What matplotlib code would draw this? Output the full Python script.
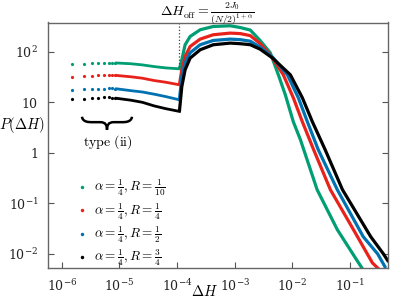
import numpy as np
import matplotlib
matplotlib.use('Agg')
import matplotlib.pyplot as plt
from matplotlib.path import Path
from matplotlib.patches import PathPatch

plt.rcParams['mathtext.fontset'] = 'cm'
plt.rcParams['font.family'] = 'serif'
plt.rcParams['font.serif'] = ['DejaVu Serif']

# series labels and colours
labels = [r'$\alpha=\frac{1}{4}, R=\frac{1}{10}$', r'$\alpha=\frac{1}{4}, R=\frac{1}{4}$',
          r'$\alpha=\frac{1}{4}, R=\frac{1}{2}$', r'$\alpha=\frac{1}{4}, R=\frac{3}{4}$']
colors = ['#009E73', '#E8221B', '#0072B2', '#000000']

# sparse dots of the type (ii) region (same dH for every series)
dh_dots = [1.48e-6, 2.45e-6, 3.4e-6, 4.3e-6, 5.4e-6, 6.5e-6, 7.4e-6, 8.5e-6]
p_dots = [
    [57, 58, 59, 59, 60, 60, 60, 60],
    [31.5, 32.5, 33, 34, 34, 34.5, 34.5, 34.5],
    [17.8, 18, 18.3, 18.6, 18.7, 18.8, 18.8, 18.7],
    [11.5, 11.7, 12, 12.3, 12.5, 12.6, 12.4, 12.2],
]

# dense part of the type (ii) region, up to dH_off
dh_off = 1.1e-4
dh_band = [8.9e-6, 1.58e-5, 2.5e-5, 3.98e-5, 6.3e-5, 1.1e-4]
p_band = [
    [60, 58, 55, 51, 48, 46],
    [34, 32, 30, 27, 25, 22.2],
    [18.5, 17, 16, 14.5, 13, 11.2],
    [12, 11, 10, 8.5, 7.5, 6.6],
]

log_dh_main = [
    [-3.96, -3.918, -3.861, -3.774, -3.60, -3.374, -3.078, -2.904, -2.73, -2.557, -2.383,
     -2.243, -2.122, -1.983, -1.86, -1.57, -1.22, -0.85, -0.78],
    [-3.96, -3.918, -3.861, -3.774, -3.60, -3.374, -3.078, -2.904, -2.73, -2.557, -2.383,
     -2.157, -1.983, -1.826, -1.63, -1.34, -0.94, -0.61, -0.50],
    [-3.96, -3.918, -3.861, -3.774, -3.60, -3.374, -3.078, -2.904, -2.73, -2.557, -2.348,
     -2.087, -1.896, -1.739, -1.55, -1.22, -0.77, -0.52, -0.38],
    [-3.96, -3.918, -3.861, -3.774, -3.60, -3.374, -3.078, -2.904, -2.73, -2.557, -2.348,
     -2.035, -1.826, -1.652, -1.43, -1.13, -0.64, -0.42, -0.33],
]
log_p_main = [
    [1.663, 1.842, 2.139, 2.303, 2.436, 2.501, 2.515, 2.48, 2.43, 2.22, 1.98,
     1.545, 1.149, 0.614, 0.26, -0.73, -1.52, -2.18, -2.30],
    [1.347, 1.644, 1.907, 2.105, 2.251, 2.337, 2.37, 2.36, 2.32, 2.16, 1.94,
     1.545, 1.089, 0.614, 0.06, -0.73, -1.52, -2.18, -2.30],
    [1.05, 1.511, 1.782, 1.98, 2.139, 2.224, 2.251, 2.24, 2.21, 2.09, 1.90,
     1.545, 1.089, 0.614, 0.06, -0.73, -1.66, -2.00, -2.28],
    [0.818, 1.313, 1.644, 1.875, 2.04, 2.139, 2.172, 2.16, 2.14, 2.05, 1.88,
     1.545, 1.089, 0.614, 0.06, -0.73, -1.66, -2.00, -2.16],
]

fig = plt.figure(figsize=(4.15, 3.02), dpi=100)
ax = fig.add_axes([48/415, 1 - 268/302, 340/415, 245.5/302])

for i in range(4):
    ax.plot(dh_dots, p_dots[i], 'o', ms=2.3, mec='none', color=colors[i])
    ax.plot(dh_band, p_band[i], '-', lw=2.0, color=colors[i])
    ax.plot(10.0 ** np.array(log_dh_main[i]), 10.0 ** np.array(log_p_main[i]), '-', lw=2.3,
            color=colors[i], solid_capstyle='butt', solid_joinstyle='round')

# dotted line at dH_off
ax.plot([dh_off, dh_off], [50, 400], ':', color='#444444', lw=0.9)

ax.set_xscale('log')
ax.set_yscale('log')
ax.set_xlim(5.75e-7, 0.457)
ax.set_ylim(0.00525, 380)

ax.set_xticks([1e-6, 1e-5, 1e-4, 1e-3, 1e-2, 1e-1])
ax.set_xticklabels([r'$\mathit{10^{-6}}$', r'$\mathit{10^{-5}}$', r'$\mathit{10^{-4}}$',
                    r'$\mathit{10^{-3}}$', r'$\mathit{10^{-2}}$', r'$\mathit{10^{-1}}$'],
                   math_fontfamily='dejavuserif')
ax.set_yticks([1e-2, 1e-1, 1, 10, 100])
ax.set_yticklabels([r'$\mathit{10^{-2}}$', r'$\mathit{10^{-1}}$', r'$\mathit{1}$',
                    r'$\mathit{10}$', r'$\mathit{10^{2}}$'], math_fontfamily='dejavuserif')
ax.minorticks_off()
ax.tick_params(direction='in', length=4, width=0.8, color='#555555', labelsize=9,
               labelcolor='#222222', right=True, top=False, pad=7)
for s in ax.spines.values():
    s.set_color('#666666')
    s.set_linewidth(1.0)

# legend
handles = [plt.Line2D([], [], ls='none', marker='o', ms=2.5, mec='none', color=c) for c in colors]
ax.legend(handles, labels, loc='upper left', bbox_to_anchor=(0.07, 0.39), frameon=False,
          fontsize=9.5, handlelength=0.8, handletextpad=0.5, labelspacing=0.2,
          borderaxespad=0)

# curly brace + label
x0, x1, xm = 0.100, 0.247, 0.1735
yt, ym, yb = 0.616, 0.594, 0.563
verts = [(x0, yt), (x0 + 0.002, ym), (x0 + 0.02, ym), (x0 + 0.03, ym),
         (xm - 0.02, ym),
         (xm - 0.004, ym), (xm, ym - 0.012), (xm, yb),
         (xm, ym - 0.012), (xm + 0.004, ym), (xm + 0.02, ym),
         (x1 - 0.03, ym),
         (x1 - 0.02, ym), (x1 - 0.002, ym), (x1, yt)]
codes = [Path.MOVETO, Path.CURVE4, Path.CURVE4, Path.CURVE4,
         Path.LINETO,
         Path.CURVE4, Path.CURVE4, Path.CURVE4,
         Path.CURVE4, Path.CURVE4, Path.CURVE4,
         Path.LINETO,
         Path.CURVE4, Path.CURVE4, Path.CURVE4]
ax.add_patch(PathPatch(Path(verts, codes), transform=ax.transAxes, fill=False, lw=1.8, color='black'))
ax.text(0.176, 0.514, r'$\mathrm{type\ (ii)}$', transform=ax.transAxes, ha='center', va='center', fontsize=10)

fig.text(207/415, 1 - 13/302, r'$\Delta H_{\rm off} = \frac{2J_0}{(N/2)^{1+\alpha}}$',
         ha='center', va='center', fontsize=10)
fig.text(205/415, 1 - 291/302, r'$\Delta H$', ha='center', va='center', fontsize=10.5)
fig.text(22/415, 1 - 125/302, r'$P(\Delta H)$', ha='center', va='center', fontsize=10.5)

fig.savefig('out.png', dpi=100)
